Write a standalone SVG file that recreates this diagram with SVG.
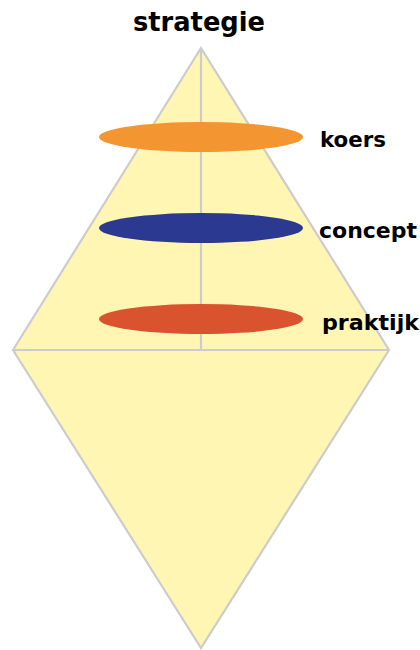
<svg xmlns="http://www.w3.org/2000/svg" width="420" height="650" viewBox="0 0 420 650">
<style>
.shape{fill:#FFF6B4;stroke:#CCCCCC;stroke-width:2.2;stroke-linejoin:miter}
.ln{stroke:#CCCCCC;stroke-width:2.2;fill:none}
.lbl{font-family:"DejaVu Sans",sans-serif;font-weight:bold;fill:#000}
</style>
<rect width="420" height="650" fill="#fff"/>
<g id="diamond">
<polygon class="shape" points="201,48 389,350 201,648 13,350"/>
</g>
<g id="connectors">
<line class="ln" x1="13" y1="350" x2="389" y2="350"/>
<line class="ln" x1="201" y1="48" x2="201" y2="350"/>
</g>
<g id="koers">
<ellipse cx="201" cy="137" rx="102" ry="15" fill="#F39530"/>
<text class="lbl" x="320" y="147" font-size="22" textLength="66" lengthAdjust="spacingAndGlyphs">koers</text>
</g>
<g id="concept">
<ellipse cx="201" cy="228" rx="102" ry="15" fill="#2B3990"/>
<text class="lbl" x="319" y="238" font-size="22" textLength="98" lengthAdjust="spacingAndGlyphs">concept</text>
</g>
<g id="praktijk">
<ellipse cx="201" cy="319" rx="102" ry="15" fill="#D9532F"/>
<text class="lbl" x="322" y="330" font-size="22" textLength="97" lengthAdjust="spacingAndGlyphs">praktijk</text>
</g>
<g id="title">
<text class="lbl" x="133" y="31" font-size="27" textLength="132" lengthAdjust="spacingAndGlyphs">strategie</text>
</g>
</svg>
